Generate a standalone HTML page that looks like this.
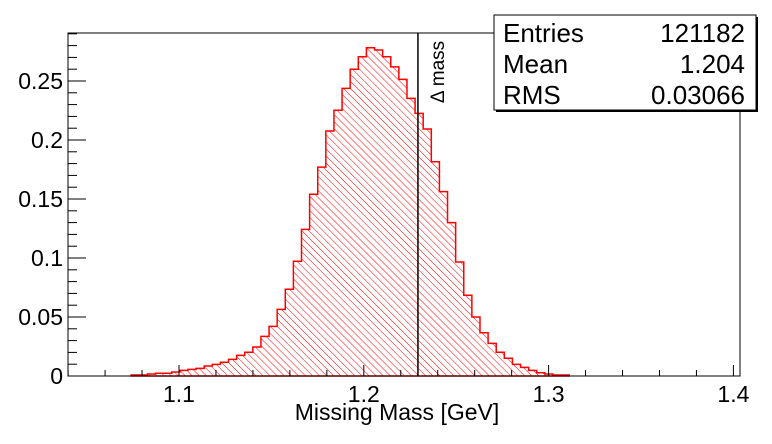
<!DOCTYPE html>
<html><head><meta charset="utf-8"><style>
body{margin:0;background:#fff;width:772px;height:444px;overflow:hidden;font-family:"Liberation Sans",Arial,sans-serif}
svg{display:block}
</style></head><body>
<svg id="chart" width="772" height="444" xmlns="http://www.w3.org/2000/svg">
<defs><pattern id="hatch" patternUnits="userSpaceOnUse" width="5" height="5" patternTransform="rotate(-45)"><line x1="0" y1="0" x2="0" y2="5" stroke="#ff0000" stroke-width="1"/></pattern></defs>
<g id="plot"></g>
</svg>
<script>
const binStart = 1.0741;
const binWidth = 0.00439;
const binValues = [0.0008,0.0008,0.0017,0.0023,0.0023,0.0034,0.0048,0.0056,0.0065,0.0085,0.0099,0.0116,0.0141,0.0175,0.0201,0.0246,0.0336,0.0421,0.0565,0.0735,0.0972,0.1243,
0.154,0.177,0.2076,0.2252,0.2438,0.260,0.2706,0.2782,0.2763,0.2706,0.262,0.2514,0.2353,0.2226,0.2093,0.1816,0.1562,0.130,
0.0966,0.0684,0.050,0.0367,0.0277,0.0201,0.015,0.0099,0.0073,0.0048,0.0028,0.0017,0.0008,0.0008];
const xTicks = [1.1,1.2,1.3,1.4];
const xTickLabels = ["1.1","1.2","1.3","1.4"];
const yTicks = [0,0.05,0.1,0.15,0.2,0.25];
const yTickLabels = ["0","0.05","0.1","0.15","0.2","0.25"];
const deltaMass = 1.2293;
const statLabels = ["Entries","Mean","RMS"];
const statValues = ["121182","1.204","0.03066"];

const NS="http://www.w3.org/2000/svg";
const g=document.getElementById('plot');
const L=68,R=740,T=33,B=376;
const X=v=>179+(v-1.1)*1848;
const Y=v=>B-v*1180;
function mk(t,a,p){const e=document.createElementNS(NS,t);for(const k in a)e.setAttribute(k,a[k]);(p||g).appendChild(e);return e;}

let d=`M${X(binStart)},${B}`;
binValues.forEach((v,i)=>{const x0=X(binStart+i*binWidth),x1=X(binStart+(i+1)*binWidth);d+=` L${x0},${Y(v)} L${x1},${Y(v)}`;});
d+=` L${X(binStart+binValues.length*binWidth)},${B} Z`;
const h=mk('path',{d:d,fill:'url(#hatch)',stroke:'#ff0000','stroke-width':1.5});



const fr=mk('rect',{x:L,y:T,width:R-L,height:B-T,fill:'none',stroke:'#000','stroke-width':1});



for(let v=1.04;v<=1.4001;v+=0.02){const x=X(v);const maj=Math.abs(v*10-Math.round(v*10))<1e-6;mk('line',{x1:x,y1:B,x2:x,y2:B-(maj?11:6),stroke:'#000'});}
xTicks.forEach((v,i)=>{const t=mk('text',{x:X(v),y:B+26,'font-size':23,'text-anchor':'middle'});t.textContent=xTickLabels[i];

});
for(let v=0;v<=0.2901;v+=0.01){const y=Y(v);if(y<T)break;const maj=Math.abs(v*20-Math.round(v*20))<1e-6;mk('line',{x1:L,y1:y,x2:L+(maj?18:9),y2:y,stroke:'#000'});}
yTicks.forEach((v,i)=>{const t=mk('text',{x:L-5,y:Y(v)+8,'font-size':23,'text-anchor':'end'});t.textContent=yTickLabels[i];

});

const xt=mk('text',{x:397,y:420,'font-size':23,'text-anchor':'middle'});xt.textContent='Missing Mass [GeV]';



const dl=mk('line',{x1:X(deltaMass),y1:T,x2:X(deltaMass),y2:B,stroke:'#000','stroke-width':1.5});


const dt=mk('text',{x:0,y:0,'font-size':19,'text-anchor':'middle',transform:`translate(${X(deltaMass)+26},72) rotate(-90)`});dt.textContent='\u0394 mass';



const sg=mk('g',{});


mk('rect',{x:496,y:17,width:262,height:95,fill:'#000'},sg);
mk('rect',{x:494,y:15,width:262,height:95,fill:'#fff',stroke:'#000','stroke-width':1},sg);
statLabels.forEach((s,i)=>{const y=42+i*31;
const a=mk('text',{x:503,y:y,'font-size':26},sg);a.textContent=s;


const b=mk('text',{x:745,y:y,'font-size':26,'text-anchor':'end'},sg);b.textContent=statValues[i];

});
</script>
</body></html>
